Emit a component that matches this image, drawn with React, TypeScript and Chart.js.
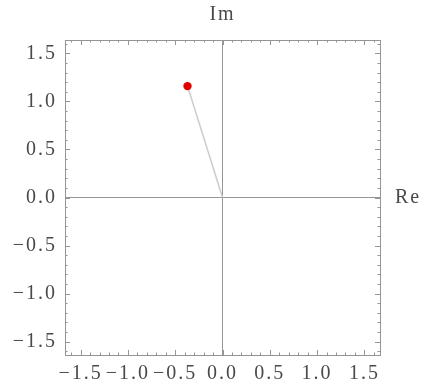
import React, { useEffect, useRef } from "react";
import { Chart, registerables } from "chart.js";

Chart.register(...registerables);

const POINT_RE = -0.37;
const POINT_IM = 1.16;
const MAJOR_TICKS = [-1.5, -1.0, -0.5, 0.0, 0.5, 1.0, 1.5];
const MINOR_TICKS = [-1.6, -1.4, -1.3, -1.2, -1.1, -0.9, -0.8, -0.7, -0.6, -0.4, -0.3, -0.2, -0.1, 0.1, 0.2, 0.3, 0.4, 0.6, 0.7, 0.8, 0.9, 1.1, 1.2, 1.3, 1.4, 1.6];
const X_RANGE = [-1.665, 1.665];
const Y_RANGE = [-1.64, 1.64];
const X_LABEL = "Re";
const Y_LABEL = "Im";

const FONT = "'Liberation Serif', 'DejaVu Serif', serif";
const TEXT_COLOR = "#4a4a4a";
const FRAME_COLOR = "#959595";
const SPACING = "2px";

const fmt = (v: number) => {
  const s = Math.abs(v).toFixed(1);
  return v < -1e-9 ? "\u2212" + s : s;
};

const framePlugin = {
  id: "framePlugin",
  beforeDraw(chart: any) {
    chart.ctx.letterSpacing = SPACING;
  },
  afterDraw(chart: any) {
    const { ctx, chartArea: a, scales } = chart;
    const xs = scales.x;
    const ys = scales.y;
    ctx.save();
    ctx.strokeStyle = FRAME_COLOR;
    ctx.lineWidth = 1;
    ctx.strokeRect(Math.round(a.left) + 0.5, Math.round(a.top) + 0.5, Math.round(a.right - a.left), Math.round(a.bottom - a.top));
    const drawTicks = (vals: number[], len: number) => {
      ctx.beginPath();
      for (const v of vals) {
        const px = Math.round(xs.getPixelForValue(v)) + 0.5;
        ctx.moveTo(px, a.bottom);
        ctx.lineTo(px, a.bottom - len);
        ctx.moveTo(px, a.top);
        ctx.lineTo(px, a.top + len);
        const py = Math.round(ys.getPixelForValue(v)) + 0.5;
        ctx.moveTo(a.left, py);
        ctx.lineTo(a.left + len, py);
        ctx.moveTo(a.right, py);
        ctx.lineTo(a.right - len, py);
      }
      ctx.stroke();
    };
    drawTicks(MAJOR_TICKS, 5);
    drawTicks(MINOR_TICKS, 2.5);
    ctx.fillStyle = TEXT_COLOR;
    ctx.font = "20px " + FONT;
    ctx.letterSpacing = SPACING;
    ctx.textAlign = "center";
    ctx.textBaseline = "middle";
    ctx.fillText(Y_LABEL, xs.getPixelForValue(0), 15);
    ctx.textAlign = "left";
    ctx.fillText(X_LABEL, a.right + 15, ys.getPixelForValue(0));
    ctx.restore();
  },
};

export default function App() {
  const ref = useRef<HTMLCanvasElement | null>(null);
  useEffect(() => {
    if (!ref.current) return;
    const zeroGrid = (c: any) => (Math.abs(c.tick?.value ?? 1) < 1e-9 ? FRAME_COLOR : "rgba(0,0,0,0)");
    const chart = new Chart(ref.current, {
      type: "scatter",
      data: {
        datasets: [
          {
            data: [
              { x: 0, y: 0 },
              { x: POINT_RE, y: POINT_IM },
            ],
            showLine: true,
            borderColor: "#cccccc",
            borderWidth: 1.5,
            pointRadius: [0, 4.2],
            pointHoverRadius: [0, 4.2],
            pointBackgroundColor: "#e10000",
            pointBorderColor: "#e10000",
            pointBorderWidth: 0,
          } as any,
        ],
      },
      options: {
        animation: false,
        responsive: false,
        events: [],
        layout: { padding: { top: 40, right: 45, left: 0, bottom: 0 } },
        plugins: { legend: { display: false }, tooltip: { enabled: false }, title: { display: false } },
        scales: {
          x: {
            type: "linear",
            min: X_RANGE[0],
            max: X_RANGE[1],
            afterBuildTicks: (s: any) => {
              s.ticks = MAJOR_TICKS.map((v) => ({ value: v }));
            },
            afterFit: (s: any) => {
              s.height = 32;
            },
            grid: { color: zeroGrid, drawTicks: false, lineWidth: 1 },
            border: { display: false },
            ticks: {
              autoSkip: false,
              maxRotation: 0,
              padding: 7,
              color: TEXT_COLOR,
              font: { family: FONT, size: 20 },
              callback: (v: any) => fmt(Number(v)),
            },
          },
          y: {
            type: "linear",
            min: Y_RANGE[0],
            max: Y_RANGE[1],
            afterBuildTicks: (s: any) => {
              s.ticks = MAJOR_TICKS.map((v) => ({ value: v }));
            },
            afterFit: (s: any) => {
              s.width = 65;
            },
            grid: { color: zeroGrid, drawTicks: false, lineWidth: 1 },
            border: { display: false },
            ticks: {
              autoSkip: false,
              padding: 8,
              color: TEXT_COLOR,
              font: { family: FONT, size: 20 },
              callback: (v: any) => fmt(Number(v)),
            },
          },
        },
      },
      plugins: [framePlugin],
    });
    return () => chart.destroy();
  }, []);
  return (
    <div style={{ position: "fixed", left: 0, top: 0, width: 425, height: 387, background: "#fff" }}>
      <canvas ref={ref} width={425} height={387} style={{ width: 425, height: 387, display: "block" }} />
    </div>
  );
}
